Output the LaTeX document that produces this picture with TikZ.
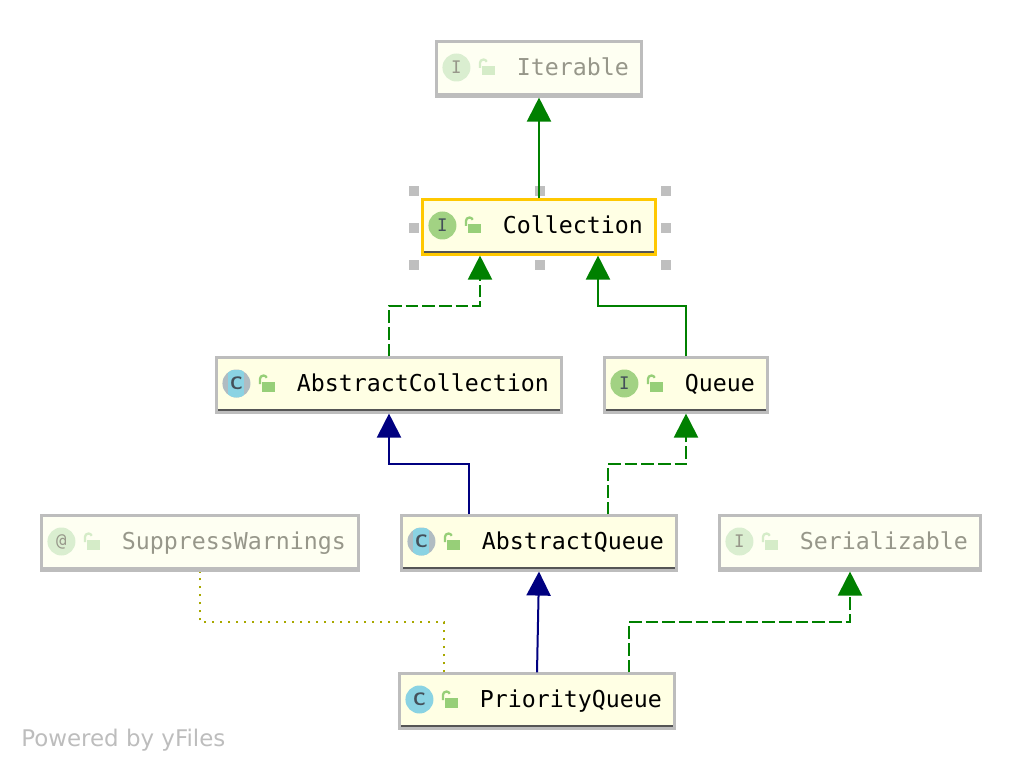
\documentclass[tikz,border=0pt]{standalone}
\usepackage{fontspec}
\setmainfont{DejaVu Sans}
\setmonofont{DejaVu Sans Mono}
\usetikzlibrary{arrows.meta,calc}
\definecolor{linegreen}{HTML}{008000}
\definecolor{linenavy}{HTML}{000080}
\definecolor{lineolive}{HTML}{A8A800}
\definecolor{boxfill}{HTML}{FFFFE4}
\definecolor{fadefill}{HTML}{FEFFF2}
\definecolor{boxborder}{HTML}{BDBDBD}
\definecolor{boxbar}{HTML}{555555}
\definecolor{pickborder}{HTML}{FFC800}
\definecolor{handlegray}{HTML}{BFBFBF}
\definecolor{ifacegreen}{HTML}{A2D283}
\definecolor{classblue}{HTML}{8AD3E3}
\definecolor{absgray}{HTML}{B0BCC2}
\definecolor{lockgreen}{HTML}{97CF78}
\definecolor{fadeicon}{HTML}{DAEED0}
\definecolor{fadelock}{HTML}{D5ECC8}
\definecolor{fadetext}{HTML}{97978A}
\definecolor{letterdark}{HTML}{44505A}
\tikzset{
	umlbox/.style={rectangle,draw=boxborder,fill=boxfill,line width=1.6pt,inner xsep=9.5pt,inner ysep=0pt,
		minimum height=41.25pt,text width={(#1-2)*0.75pt-19pt},align=right,
		text height=13.5pt,text depth=3.2pt,font=\ttfamily\fontsize{17.44}{20}\selectfont,
		path picture={\fill[boxbar] ($(path picture bounding box.south west)+(0,-3.8)$) rectangle (path picture bounding box.south east);}},
	fadebox/.style={umlbox=#1,fill=fadefill,text=fadetext,
		path picture={\fill[boxborder] ($(path picture bounding box.south west)+(0,-3.8)$) rectangle (path picture bounding box.south east);}},
	icon/.style={circle,inner sep=0pt,minimum size=21pt,text=letterdark},
	iicon/.style={icon,fill=ifacegreen,font=\ttfamily\fontsize{13}{13}\selectfont},
	cletter/.style={font=\sffamily\bfseries\fontsize{13.5}{14}\selectfont},
	cicon/.style={icon,fill=classblue,cletter},
	absicon/.style={icon,fill=absgray},
	fadeicn/.style={icon,fill=fadeicon,text=fadetext,font=\ttfamily\fontsize{13}{13}\selectfont},
	handle/.style={rectangle,fill=handlegray,inner sep=0pt,minimum size=7.5pt},
	pics/lockicon/.style={code={
		\fill[#1] (0,0) rectangle (13,9.5);
		\draw[#1,line width=1.7pt] (-2.5,2) -- (-2.5,-3) arc[start angle=180,end angle=340,radius=3.5];
	}},
	pics/absstrip/.style={code={
		\clip (0,0) circle[radius=14];
		\fill[classblue] (-8,-14) rectangle (8,14);
	}},
	extends/.style={linegreen,line width=1.5pt,-{Triangle[width=18pt,length=18pt]}},
	realizes/.style={extends,dash pattern=on 9.5pt off 3pt},
	inherits/.style={extends,linenavy},
	annotated/.style={lineolive,line width=1.5pt,dash pattern=on 1.5pt off 4.5pt}
}
\begin{document}
\begin{tikzpicture}[x=0.75pt,y=-0.75pt]
	\useasboundingbox (0,0) rectangle (1022,770);

	%selection handles
	\node[handle] (h1) at (414,191) {};
	\node[handle] (h2) at (540,191) {};
	\node[handle] (h3) at (666,191) {};
	\node[handle] (h4) at (414,228) {};
	\node[handle] (h5) at (666,228) {};
	\node[handle] (h6) at (414,265) {};
	\node[handle] (h7) at (540,265) {};
	\node[handle] (h8) at (666,265) {};

	%boxes
	\node[fadebox=207] (Iterable) at (539,69) {Iterable};
	\node[umlbox=235,draw=pickborder] (Collection) at (539,227) {Collection};
	\node[umlbox=347] (AbstractCollection) at (389,385) {AbstractCollection};
	\node[umlbox=165] (Queue) at (686,385) {Queue};
	\node[fadebox=319] (SuppressWarnings) at (200,543) {SuppressWarnings};
	\node[umlbox=277] (AbstractQueue) at (539,543) {AbstractQueue};
	\node[fadebox=263] (Serializable) at (850,543) {Serializable};
	\node[umlbox=277] (PriorityQueue) at (537,701) {PriorityQueue};

	%icons
	\node[fadeicn] (iterableicon) at ($(Iterable.west)+(21,-1.5)$) {I};
	\pic at ($(Iterable.west)+(47,-3)$) {lockicon=fadelock};
	\node[iicon] (collectionicon) at ($(Collection.west)+(21,-1.5)$) {I};
	\pic at ($(Collection.west)+(47,-3)$) {lockicon=lockgreen};
	\node[absicon] (abscollectionicon) at ($(AbstractCollection.west)+(21,-1.5)$) {};
	\pic at (abscollectionicon.center) {absstrip};
	\node[inner sep=0pt,text=letterdark,cletter] (abscollectionletter) at (abscollectionicon.center) {C};
	\pic at ($(AbstractCollection.west)+(47,-3)$) {lockicon=lockgreen};
	\node[iicon] (queueicon) at ($(Queue.west)+(21,-1.5)$) {I};
	\pic at ($(Queue.west)+(47,-3)$) {lockicon=lockgreen};
	\node[fadeicn] (suppressicon) at ($(SuppressWarnings.west)+(21,-1.5)$) {@};
	\pic at ($(SuppressWarnings.west)+(47,-3)$) {lockicon=fadelock};
	\node[absicon] (absqueueicon) at ($(AbstractQueue.west)+(21,-1.5)$) {};
	\pic at (absqueueicon.center) {absstrip};
	\node[inner sep=0pt,text=letterdark,cletter] (absqueueletter) at (absqueueicon.center) {C};
	\pic at ($(AbstractQueue.west)+(47,-3)$) {lockicon=lockgreen};
	\node[fadeicn] (serialicon) at ($(Serializable.west)+(21,-1.5)$) {I};
	\pic at ($(Serializable.west)+(47,-3)$) {lockicon=fadelock};
	\node[cicon] (priorityicon) at ($(PriorityQueue.west)+(21,-1.5)$) {C};
	\pic at ($(PriorityQueue.west)+(47,-3)$) {lockicon=lockgreen};

	%connectors
	\draw[extends] (Collection.north) -- (Iterable.south);
	\draw[realizes] (AbstractCollection.north) -- ++(0,-50) -| ($(Collection.south)+(-59,0)$);
	\draw[extends] (Queue.north) -- ++(0,-50) -| ($(Collection.south)+(59,0)$);
	\draw[inherits] ($(AbstractQueue.north)+(-70,0)$) -- ++(0,-50) -| (AbstractCollection.south);
	\draw[realizes] ($(AbstractQueue.north)+(69,0)$) -- ++(0,-50) -| (Queue.south);
	\draw[inherits] (PriorityQueue.north) -- (AbstractQueue.south);
	\draw[realizes] ($(PriorityQueue.north)+(92,0)$) -- ++(0,-50) -| (Serializable.south);
	\draw[annotated] ($(PriorityQueue.north)+(-93,0)$) -- ++(0,-50) -| (SuppressWarnings.south);

	%watermark
	\node[anchor=base west,inner sep=0pt,text=boxborder,font=\fontsize{17.2}{20}\selectfont] (poweredby) at (21,746) {Powered by yFiles};
\end{tikzpicture}
\end{document}
